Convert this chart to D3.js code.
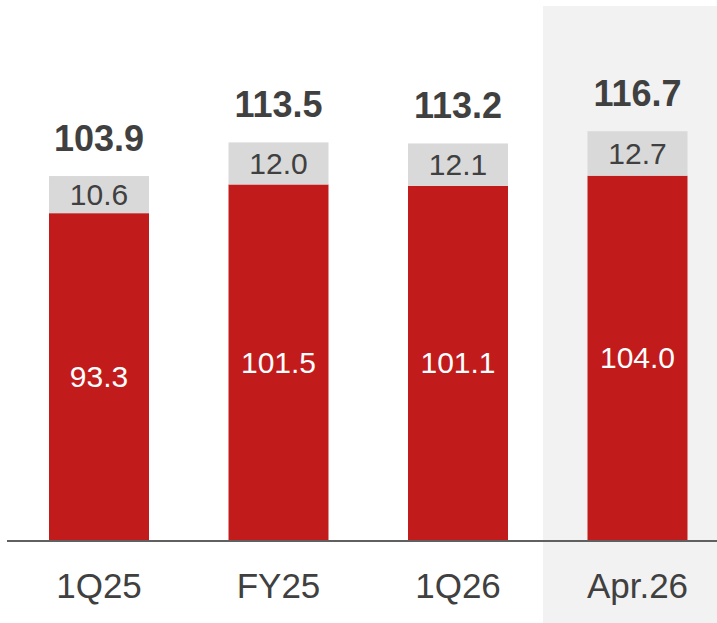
<!DOCTYPE html>
<html>
<head>
<meta charset="utf-8">
<script src="https://cdn.jsdelivr.net/npm/d3@7"></script>
<style>
  body { margin: 0; background: #fff; }
  text { font-family: "Liberation Sans", Arial, sans-serif; }
</style>
</head>
<body>
<div id="chart"></div>
<script>
let categories = ["1Q25", "FY25", "1Q26", "Apr.26"];
let redValues = [93.3, 101.5, 101.1, 104.0];
let grayValues = [10.6, 12.0, 12.1, 12.7];
let totals = [103.9, 113.5, 113.2, 116.7];
let highlighted = ["Apr.26"];

let width = 717, height = 623;
let baseY = 540;

let svg = d3.select("#chart").append("svg")
    .attr("width", width)
    .attr("height", height);

let x = d3.scaleBand()
    .domain(categories)
    .range([9.25, 727.25])
    .paddingInner(0.443)
    .paddingOuter(0.2215);

let y = d3.scaleLinear()
    .domain([0, 150])
    .range([baseY, baseY - 3.503 * 150]);

// highlight background
svg.selectAll(".hl")
    .data(highlighted)
    .enter().append("rect")
    .attr("class", "hl")
    .attr("x", d => x(d) - 44.5)
    .attr("y", 6)
    .attr("width", 200)
    .attr("height", height)
    .attr("fill", "#f2f2f2");

let rows = categories.map((c, i) => ({
    cat: c, red: redValues[i], gray: grayValues[i], total: totals[i]
}));

// red segments
svg.selectAll(".red")
    .data(rows)
    .enter().append("rect")
    .attr("class", "red")
    .attr("x", d => x(d.cat))
    .attr("width", x.bandwidth())
    .attr("y", d => y(d.red))
    .attr("height", d => y(0) - y(d.red))
    .attr("fill", "#c21b1c");

// gray segments
svg.selectAll(".gray")
    .data(rows)
    .enter().append("rect")
    .attr("class", "gray")
    .attr("x", d => x(d.cat))
    .attr("width", x.bandwidth())
    .attr("y", d => y(d.red + d.gray))
    .attr("height", d => y(d.red) - y(d.red + d.gray))
    .attr("fill", "#d9d9d9");

// labels in red
svg.selectAll(".redlabel")
    .data(rows)
    .enter().append("text")
    .attr("class", "redlabel")
    .attr("x", d => x(d.cat) + x.bandwidth() / 2)
    .attr("y", d => (y(0) + y(d.red)) / 2)
    .attr("dy", "0.35em")
    .attr("text-anchor", "middle")
    .attr("font-size", 30)
    .attr("fill", "#fff")
    .text(d => d.red.toFixed(1));

// labels in gray
svg.selectAll(".graylabel")
    .data(rows)
    .enter().append("text")
    .attr("class", "graylabel")
    .attr("x", d => x(d.cat) + x.bandwidth() / 2)
    .attr("y", d => (y(d.red) + y(d.red + d.gray)) / 2)
    .attr("dy", "0.35em")
    .attr("text-anchor", "middle")
    .attr("font-size", 30)
    .attr("fill", "#404040")
    .text(d => d.gray.toFixed(1));

// totals
svg.selectAll(".total")
    .data(rows)
    .enter().append("text")
    .attr("class", "total")
    .attr("x", d => x(d.cat) + x.bandwidth() / 2)
    .attr("y", d => y(d.total) - 25)
    .attr("text-anchor", "middle")
    .attr("font-size", 36)
    .attr("font-weight", "bold")
    .attr("fill", "#404040")
    .text(d => d.total.toFixed(1));

// baseline
svg.append("line")
    .attr("x1", 7)
    .attr("x2", width)
    .attr("y1", baseY + 1)
    .attr("y2", baseY + 1)
    .attr("stroke", "#606060")
    .attr("stroke-width", 2);

// category labels
svg.selectAll(".cat")
    .data(categories)
    .enter().append("text")
    .attr("class", "cat")
    .attr("x", d => x(d) + x.bandwidth() / 2)
    .attr("y", 598)
    .attr("text-anchor", "middle")
    .attr("font-size", 35)
    .attr("fill", "#404040")
    .text(d => d);
</script>
</body>
</html>
